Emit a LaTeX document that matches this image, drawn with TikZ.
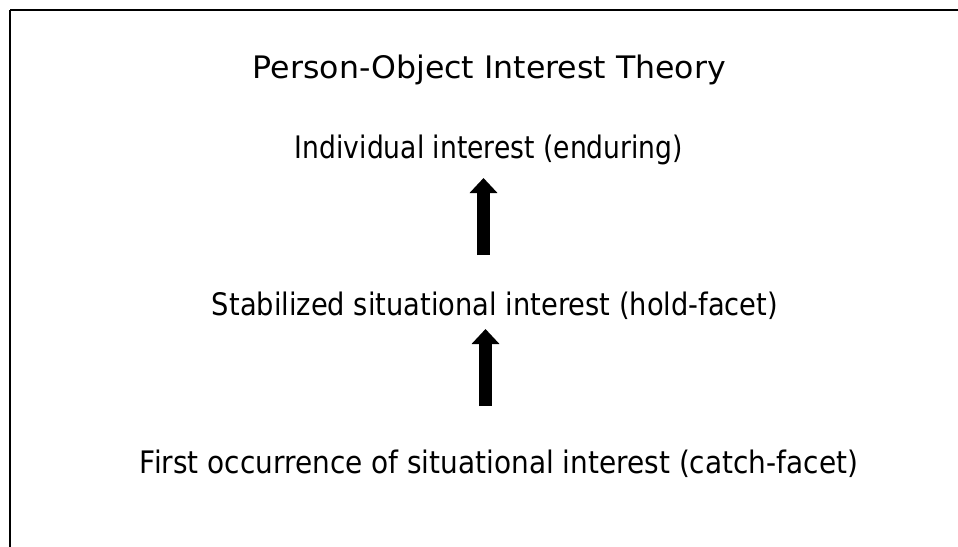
\documentclass[tikz,border=0pt]{standalone}
\usepackage{fontspec}
\usepackage{graphicx}
\setmainfont{DejaVu Sans}
\usetikzlibrary{arrows.meta}
\newcommand\fitw[2]{\resizebox{#1pt}{\height}{#2}}
\tikzset{
  lbl/.style={anchor=base, inner sep=0pt, font=\fontsize{31}{36}\selectfont},
  blockarrow/.style={line width=13pt, -{Triangle[width=27pt,length=15pt]}, black}
}
\begin{document}
\begin{tikzpicture}[x=1pt,y=-1pt]
\useasboundingbox (0,0) rectangle (958,546);
\draw[line width=2pt] (10,10) -- (960,10);
\draw[line width=2pt] (10,10) -- (10,548);
\node[lbl] (title) at (489.5,78) {\fitw{473}{Person-Object Interest Theory}};
\node[lbl] (ind) at (489,158) {\fitw{388}{Individual interest (enduring)}};
\node[lbl] (stab) at (495,315) {\fitw{566}{Stabilized situational interest (hold-facet)}};
\node[lbl] (first) at (499,473) {\fitw{718}{First occurrence of situational interest (catch-facet)}};
\coordinate (a1s) at (483.5,255);
\coordinate (a1e) at (483.5,178);
\coordinate (a2s) at (485.5,406);
\coordinate (a2e) at (485.5,329);
\draw[blockarrow] (a1s) -- (a1e);
\draw[blockarrow] (a2s) -- (a2e);
\end{tikzpicture}
\end{document}
